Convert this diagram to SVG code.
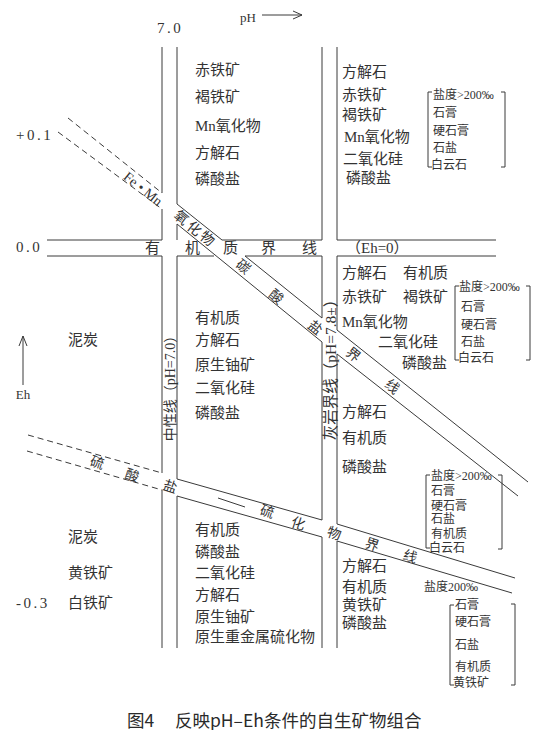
<svg xmlns="http://www.w3.org/2000/svg" width="539" height="730" viewBox="0 0 539 730">
<defs>
<style>
.ln{stroke:#3a3a3a;stroke-width:1;fill:none}
.ds{stroke:#3a3a3a;stroke-width:1;fill:none;stroke-dasharray:6 4}
.t{font-family:"Liberation Serif","Noto Sans CJK SC",serif;font-size:15px;fill:#333;dominant-baseline:central}
.s{font-size:12px}
.ax{font-size:15px;letter-spacing:2.5px}
.cap{font-family:"Noto Sans CJK SC","Liberation Sans",sans-serif;font-size:17.5px;fill:#2a2a2a;dominant-baseline:central}
</style>
</defs>
<rect width="539" height="730" fill="#fff"/>
<g id="connectors">
<path class="ln" d="M162,47V193M162,209V240M162,256V473M162,490V648"/>
<path class="ln" d="M177,47V204L222,240M177,224V240M177,256V479M177,496V648"/>
<path class="ln" d="M322,47V240M322,256V318M322,342V520M322,537V648"/>
<path class="ln" d="M337,47V240M337,256V330M337,354V524M337,541V648"/>
<path class="ln" d="M47,240H162M222,240H322M337,240H496"/>
<path class="ln" d="M47,256H162M177,256H214M245,256H322M337,256H496"/>
<path class="ds" d="M68,118L162,193M58,132L162,209"/>
<path class="ln" d="M177,224L322,342M245,256L322,318M337,330L528,482M337,354L518,496"/>
<path class="ds" d="M28,435L162,473M27,451L162,490"/>
<path class="ln" d="M177,479L322,520M177,496L322,537M337,524L515,578M337,541L512,593"/>
<path class="ln" d="M218,498L245,507"/>
<path class="ln" d="M262,15H302M293,11L302,15L293,19"/>
<path class="ln" d="M23,385V336M19,346L23,336L27,346"/>
<path class="ln" d="M432,92H428V167H432M501,92H505V167H501"/>
<path class="ln" d="M459,286H455V360H459M526,286H530V360H526"/>
<path class="ln" d="M430,475H426V548H430M498,475H502V549H498"/>
<path class="ln" d="M454,605H450V685H454M511,604H515V685H511"/>
</g>
<g id="axes">
<text class="t" x="240" y="17" style="font-size:13px">pH</text>
<text class="t" x="23" y="394" style="font-size:13px" text-anchor="middle">Eh</text>
<text class="t ax" x="157" y="28">7.0</text>
<text class="t ax" x="16" y="135">+0.1</text>
<text class="t ax" x="16" y="247">0.0</text>
<text class="t ax" x="16" y="603">-0.3</text>
</g>
<g id="band-labels">
<text class="t" x="145" y="248">有</text>
<text class="t" x="185" y="248">机</text>
<text class="t" x="223" y="248">质</text>
<text class="t" x="261" y="248">界</text>
<text class="t" x="302" y="248">线</text>
<text class="t" x="346" y="248">（Eh=0）</text>
<text class="t" transform="translate(143,189) rotate(39)" text-anchor="middle" style="font-size:14px">Fe • Mn</text>
<text class="t" transform="translate(181,218) rotate(39)" text-anchor="middle" style="font-size:14px">氧</text>
<text class="t" transform="translate(194,229) rotate(39)" text-anchor="middle" style="font-size:14px">化</text>
<text class="t" transform="translate(207,239) rotate(39)" text-anchor="middle" style="font-size:14px">物</text>
<text class="t" transform="translate(243,267) rotate(39)" text-anchor="middle" style="font-size:14px">碳</text>
<text class="t" transform="translate(276,297) rotate(39)" text-anchor="middle" style="font-size:14px">酸</text>
<text class="t" transform="translate(315,328) rotate(39)" text-anchor="middle" style="font-size:14px">盐</text>
<text class="t" transform="translate(353,355) rotate(39)" text-anchor="middle" style="font-size:14px">界</text>
<text class="t" transform="translate(392,387) rotate(39)" text-anchor="middle" style="font-size:14px">线</text>
<text class="t" transform="translate(97,463) rotate(18)" text-anchor="middle" style="font-size:14px">硫</text>
<text class="t" transform="translate(132,476) rotate(18)" text-anchor="middle" style="font-size:14px">酸</text>
<text class="t" transform="translate(170,487) rotate(18)" text-anchor="middle" style="font-size:14px">盐</text>
<text class="t" transform="translate(267,512) rotate(18)" text-anchor="middle" style="font-size:14px">硫</text>
<text class="t" transform="translate(298,524) rotate(18)" text-anchor="middle" style="font-size:14px">化</text>
<text class="t" transform="translate(334,534) rotate(18)" text-anchor="middle" style="font-size:14px">物</text>
<text class="t" transform="translate(372,545) rotate(18)" text-anchor="middle" style="font-size:14px">界</text>
<text class="t" transform="translate(410,557) rotate(18)" text-anchor="middle" style="font-size:14px">线</text>
<text class="t" transform="translate(170,385) rotate(-90)" text-anchor="middle" style="font-size:14px">中性线（pH=7.0）</text>
<text class="t" transform="translate(330,366) rotate(-90)" text-anchor="middle" style="font-size:15.5px">灰岩界线（pH=7.8±）</text>
</g>
<g id="node-mid-upper">
<text class="t" x="195" y="70">赤铁矿</text>
<text class="t" x="195" y="97">褐铁矿</text>
<text class="t" x="195" y="126">Mn氧化物</text>
<text class="t" x="195" y="153">方解石</text>
<text class="t" x="195" y="179">磷酸盐</text>
</g>
<g id="node-right-upper">
<text class="t" x="342" y="72">方解石</text>
<text class="t" x="342" y="95">赤铁矿</text>
<text class="t" x="342" y="115">褐铁矿</text>
<text class="t" x="344" y="137">Mn氧化物</text>
<text class="t" x="343" y="159">二氧化硅</text>
<text class="t" x="346" y="178">磷酸盐</text>
</g>
<g id="node-bracket-1">
<text class="t s" x="433" y="95">盐度&gt;200‰</text>
<text class="t s" x="433" y="113">石膏</text>
<text class="t s" x="433" y="131">硬石膏</text>
<text class="t s" x="433" y="148">石盐</text>
<text class="t s" x="431" y="165">白云石</text>
</g>
<g id="node-left-upper">
<text class="t" x="68" y="340">泥炭</text>
</g>
<g id="node-mid-lower">
<text class="t" x="195" y="318">有机质</text>
<text class="t" x="195" y="340">方解石</text>
<text class="t" x="195" y="365">原生铀矿</text>
<text class="t" x="195" y="388">二氧化硅</text>
<text class="t" x="195" y="413">磷酸盐</text>
</g>
<g id="node-right-mid">
<text class="t" x="342" y="273">方解石</text>
<text class="t" x="403" y="273">有机质</text>
<text class="t" x="342" y="297">赤铁矿</text>
<text class="t" x="403" y="297">褐铁矿</text>
<text class="t" x="342" y="322">Mn氧化物</text>
<text class="t" x="378" y="342">二氧化硅</text>
<text class="t" x="402" y="363">磷酸盐</text>
</g>
<g id="node-bracket-2">
<text class="t s" x="459" y="287">盐度&gt;200‰</text>
<text class="t s" x="461" y="307">石膏</text>
<text class="t s" x="461" y="325">硬石膏</text>
<text class="t s" x="461" y="342">石盐</text>
<text class="t s" x="458" y="358">白云石</text>
</g>
<g id="node-right-lower">
<text class="t" x="342" y="412">方解石</text>
<text class="t" x="342" y="438">有机质</text>
<text class="t" x="342" y="467">磷酸盐</text>
</g>
<g id="node-bracket-3">
<text class="t s" x="431" y="476">盐度&gt;200‰</text>
<text class="t s" x="431" y="491">石膏</text>
<text class="t s" x="431" y="506">硬石膏</text>
<text class="t s" x="431" y="519">石盐</text>
<text class="t s" x="431" y="534">有机质</text>
<text class="t s" x="429" y="548">白云石</text>
</g>
<g id="node-left-lower">
<text class="t" x="68" y="537">泥炭</text>
<text class="t" x="68" y="573">黄铁矿</text>
<text class="t" x="68" y="603">白铁矿</text>
</g>
<g id="node-mid-bottom">
<text class="t" x="195" y="530">有机质</text>
<text class="t" x="195" y="552">磷酸盐</text>
<text class="t" x="195" y="573">二氧化硅</text>
<text class="t" x="195" y="595">方解石</text>
<text class="t" x="195" y="617">原生铀矿</text>
<text class="t" x="195" y="637">原生重金属硫化物</text>
</g>
<g id="node-right-bottom">
<text class="t" x="342" y="566">方解石</text>
<text class="t" x="342" y="587">有机质</text>
<text class="t" x="342" y="605">黄铁矿</text>
<text class="t" x="342" y="623">磷酸盐</text>
<text class="t s" x="424" y="587">盐度200‰</text>
</g>
<g id="node-bracket-4">
<text class="t s" x="455" y="605">石膏</text>
<text class="t s" x="455" y="622">硬石膏</text>
<text class="t s" x="455" y="645">石盐</text>
<text class="t s" x="455" y="667">有机质</text>
<text class="t s" x="453" y="683">黄铁矿</text>
</g>
<g id="caption">
<text class="cap" x="127" y="719">图4<tspan x="175">反映pH–Eh条件的自生矿物组合</tspan></text>
</g>
</svg>
